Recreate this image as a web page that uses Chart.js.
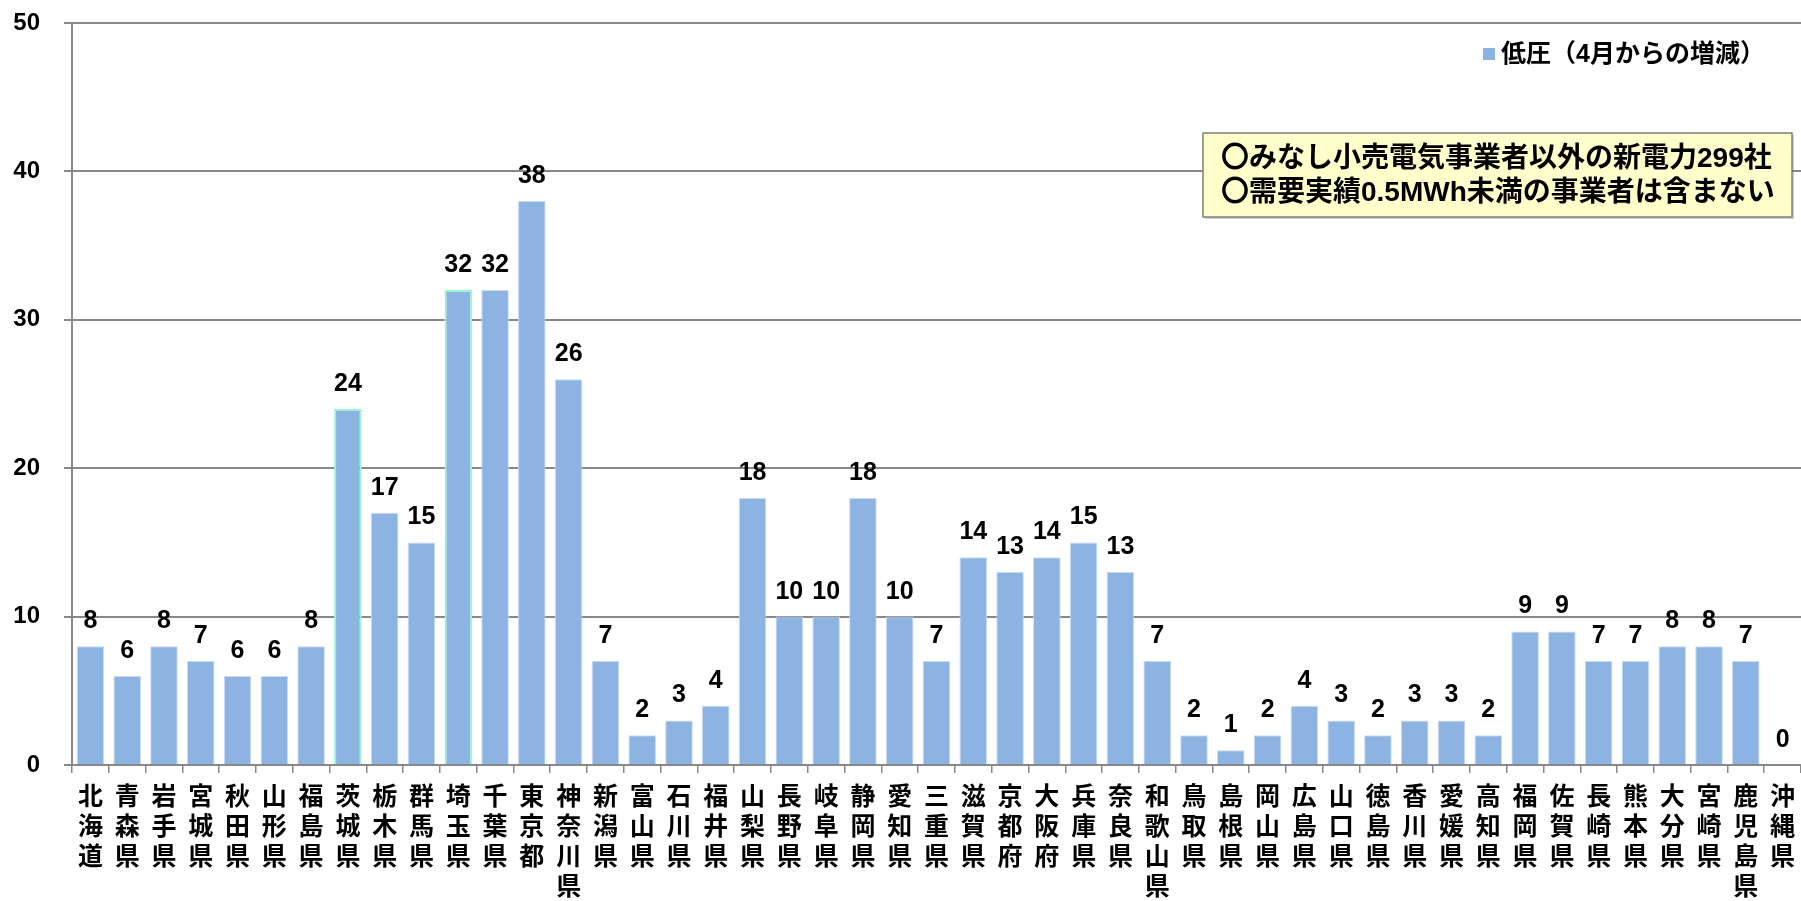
<!DOCTYPE html>
<html>
<head>
<meta charset="utf-8">
<script src="https://cdn.jsdelivr.net/npm/chart.js@4/dist/chart.umd.min.js"></script>
<style>
html,body{margin:0;padding:0;background:#fff;}
canvas{display:block;}
</style>
</head>
<body>
<canvas id="c" width="1801" height="901"></canvas>
<script>
const prefectures = ['北海道','青森県','岩手県','宮城県','秋田県','山形県','福島県','茨城県','栃木県','群馬県','埼玉県','千葉県','東京都','神奈川県','新潟県','富山県','石川県','福井県','山梨県','長野県','岐阜県','静岡県','愛知県','三重県','滋賀県','京都府','大阪府','兵庫県','奈良県','和歌山県','鳥取県','島根県','岡山県','広島県','山口県','徳島県','香川県','愛媛県','高知県','福岡県','佐賀県','長崎県','熊本県','大分県','宮崎県','鹿児島県','沖縄県'];
const values = [8,6,8,7,6,6,8,24,17,15,32,32,38,26,7,2,3,4,18,10,10,18,10,7,14,13,14,15,13,7,2,1,2,4,3,2,3,3,2,9,9,7,7,8,8,7,0];
const highlighted = ['茨城県','埼玉県'];
const seriesName = '低圧（4月からの増減）';
const noteLines = ['〇みなし小売電気事業者以外の新電力299社','〇需要実績0.5MWh未満の事業者は含まない'];
const yTicks = [0,10,20,30,40,50];

const FONT = '"Liberation Sans", Arial, "Noto Sans CJK JP", sans-serif';
const BAR = '#8DB3E2';

const labelPlugin = {
  id: 'valueLabels',
  afterDatasetsDraw(chart) {
    const ctx = chart.ctx;
    const meta = chart.getDatasetMeta(0);
    ctx.save();
    ctx.font = 'bold 25px ' + FONT;
    ctx.fillStyle = '#000';
    ctx.textAlign = 'center';
    ctx.textBaseline = 'alphabetic';
    meta.data.forEach((el, i) => {
      ctx.fillText(String(values[i]), el.x, el.y - 18);
    });
    ctx.restore();
  }
};

const overlayPlugin = {
  id: 'overlay',
  afterDraw(chart) {
    const ctx = chart.ctx;
    ctx.save();
    // legend
    ctx.fillStyle = BAR;
    ctx.fillRect(1483, 48, 12, 12);
    ctx.fillStyle = '#000';
    ctx.font = 'bold 25px ' + FONT;
    ctx.textAlign = 'left';
    ctx.textBaseline = 'middle';
    ctx.fillText(seriesName, 1501, 55);
    // note box
    const bx = 1203, by = 133, bw = 589, bh = 84;
    ctx.fillStyle = 'rgba(0,0,0,0.18)';
    ctx.fillRect(bx + 2, by + 2, bw, bh);
    ctx.fillStyle = '#FFFFCC';
    ctx.fillRect(bx, by, bw, bh);
    ctx.strokeStyle = '#808080';
    ctx.lineWidth = 1.5;
    ctx.strokeRect(bx, by, bw, bh);
    ctx.fillStyle = '#000';
    ctx.font = 'bold 28px ' + FONT;
    ctx.textBaseline = 'middle';
    ctx.fillText(noteLines[0], bx + 18, by + 26);
    ctx.fillText(noteLines[1], bx + 18, by + 60);
    ctx.restore();
  }
};

new Chart(document.getElementById('c'), {
  type: 'bar',
  data: {
    labels: prefectures.map(p => p.split('')),
    datasets: [{
      label: seriesName,
      data: values,
      backgroundColor: BAR,
      borderColor: prefectures.map(p => highlighted.includes(p) ? '#9AF7CC' : '#C9DBF2'),
      borderWidth: prefectures.map(p => highlighted.includes(p) ? 2 : 1),
      categoryPercentage: 1.0,
      barPercentage: 0.75
    }]
  },
  options: {
    responsive: false,
    devicePixelRatio: 1,
    animation: false,
    layout: { padding: { left: 13, top: 23, right: -4, bottom: 0 } },
    plugins: { legend: { display: false }, tooltip: { enabled: false } },
    scales: {
      x: {
        offset: true,
        afterFit(scale) { scale.height = 136; scale.paddingLeft = 0; scale.paddingRight = 0; },
        grid: { display: true, drawOnChartArea: false, drawTicks: true, tickLength: 8, color: '#888888', lineWidth: 1.5, offset: true },
        border: { display: true, color: '#888888', width: 2 },
        ticks: { color: '#000', font: { family: FONT, size: 25, weight: 'bold', lineHeight: 1.2 }, maxRotation: 0, minRotation: 0, autoSkip: false, padding: 10 }
      },
      y: {
        min: 0, max: 50,
        afterBuildTicks(scale) { scale.ticks = yTicks.map(v => ({ value: v })); },
        afterFit(scale) { scale.width = 59; scale.paddingTop = 0; scale.paddingBottom = 0; },
        grid: { color: '#888888', lineWidth: 2, tickLength: 8, drawTicks: true },
        border: { display: true, color: '#888888', width: 2 },
        ticks: { color: '#000', font: { family: FONT, size: 24, weight: 'bold' }, padding: 24 }
      }
    }
  },
  plugins: [labelPlugin, overlayPlugin]
});
</script>
</body>
</html>
